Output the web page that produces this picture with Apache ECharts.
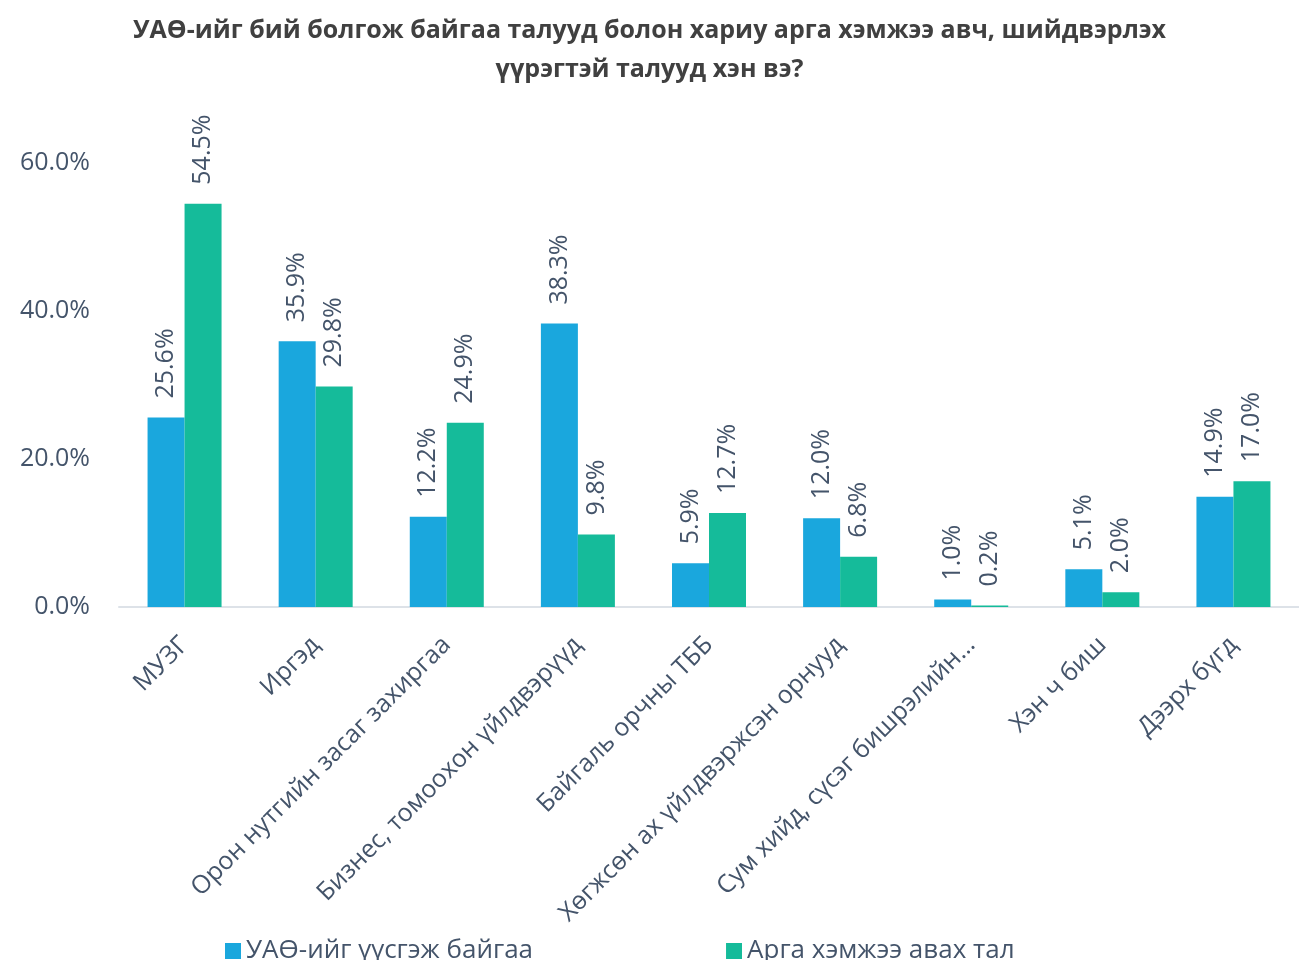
<!DOCTYPE html>
<html>
<head>
<meta charset="utf-8">
<script src="https://cdn.jsdelivr.net/npm/echarts@6/dist/echarts.min.js"></script>
<style>
html,body{margin:0;padding:0;background:#fff;}
#chart{width:1299px;height:960px;}
</style>
</head>
<body>
<div id="chart"></div>
<script>
// ангилал ба утгууд
var categories = ['МУЗГ', 'Иргэд', 'Орон нутгийн засаг захиргаа', 'Бизнес, томоохон үйлдвэрүүд',
    'Байгаль орчны ТББ', 'Хөгжсөн ах үйлдвэржсэн орнууд', 'Сум хийд, сүсэг бишрэлийн…', 'Хэн ч биш', 'Дээрх бүгд'];
var seriesNames = ['УАӨ-ийг үүсгэж байгаа', 'Арга хэмжээ авах тал'];
var causing = [25.6, 35.9, 12.2, 38.3, 5.9, 12.0, 1.0, 5.1, 14.9];
var acting = [54.5, 29.8, 24.9, 9.8, 12.7, 6.8, 0.2, 2.0, 17.0];
var yTicks = [0, 20, 40, 60];

var textColor = '#44546a';
var chart = echarts.init(document.getElementById('chart'));

function barLabel(){
    return {
        show: true,
        position: 'top',
        rotate: 90,
        align: 'left',
        verticalAlign: 'middle',
        distance: 19,
        fontFamily: 'Open Sans',
        fontSize: 25,
        color: textColor,
        formatter: function(p){ return p.value.toFixed(1) + '%'; }
    };
}

var options = {
    animation: false,
    backgroundColor: '#fff',
    title: {
        text: 'УАӨ-ийг бий болгож байгаа талууд болон хариу арга хэмжээ авч, шийдвэрлэх\nүүрэгтэй талууд хэн вэ?',
        left: 'center',
        top: 6,
        textStyle: {
            fontFamily: 'Open Sans',
            fontSize: 25,
            fontWeight: 'bold',
            color: '#404040',
            lineHeight: 39
        }
    },
    legend: {
        data: seriesNames,
        left: 220,
        top: 933,
        itemWidth: 16,
        itemHeight: 16,
        itemGap: 193,
        icon: 'rect',
        textStyle: {fontFamily: 'Open Sans', fontSize: 26, color: textColor}
    },
    grid: {left: 119, top: 163, width: 1187, height: 444},
    xAxis: {
        type: 'category',
        data: categories,
        axisLine: {lineStyle: {color: '#dde2e8', width: 2}},
        axisTick: {show: false},
        axisLabel: {
            interval: 0,
            rotate: 45,
            margin: 34,
            fontFamily: 'Open Sans',
            fontSize: 25,
            color: textColor
        }
    },
    yAxis: {
        type: 'value',
        min: yTicks[0],
        max: yTicks[yTicks.length - 1],
        interval: 20,
        splitLine: {show: false},
        axisLine: {show: false},
        axisLabel: {
            margin: 29,
            fontFamily: 'Open Sans',
            fontSize: 25,
            color: textColor,
            formatter: function(v){ return v.toFixed(1) + '%'; }
        }
    },
    series: [
        {
            name: seriesNames[0],
            type: 'bar',
            data: causing,
            barWidth: 37,
            barGap: '0%',
            itemStyle: {color: '#1aa7dd'},
            label: barLabel()
        },
        {
            name: seriesNames[1],
            type: 'bar',
            data: acting,
            barWidth: 37,
            barGap: '0%',
            itemStyle: {color: '#15bb9a'},
            label: barLabel()
        }
    ]
};
chart.setOption(options);
</script>
</body>
</html>
